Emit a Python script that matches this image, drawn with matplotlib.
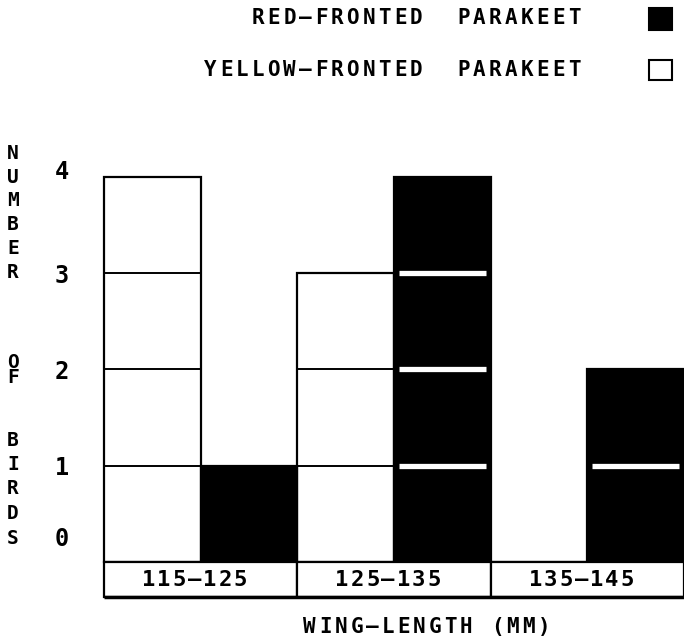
import matplotlib.pyplot as plt
from matplotlib.patches import Rectangle
from matplotlib.transforms import ScaledTranslation

plt.rcParams['font.family'] = 'DejaVu Sans Mono'

# data
groups = ['115\u2014125', '125\u2014135', '135\u2014145']
yellow_fronted = [4, 3, 0]
red_fronted = [1, 4, 2]
yticks = [0, 1, 2, 3, 4]
legend_labels = ['RED\u2014FRONTED  PARAKEET', 'YELLOW\u2014FRONTED  PARAKEET']
xlabel = 'WING\u2014LENGTH (MM)'
ylabel_words = ['NUMBER', 'OF', 'BIRDS']

W, H = 684, 643
fig = plt.figure(figsize=(W / 100, H / 100), dpi=100)


def spaced(x0, y, s, pitch, size=15, align='left'):
    # typewriter-like text with a fixed character pitch (pixels)
    if align == 'right':
        x0 = x0 - len(s) * pitch
    elif align == 'center':
        x0 = x0 - len(s) * pitch / 2
    for k, ch in enumerate(s):
        if ch != ' ':
            fig.text((x0 + (k + 0.5) * pitch) / W, 1 - y / H, ch, ha='center',
                     va='center', fontsize=size, fontweight='bold')


ax = fig.add_axes([104 / W, 46 / H, 580 / W, 420 / H])
box_h = 0.364
ax.set_xlim(0, 6)
ax.set_ylim(-box_h, 4)
for s in ax.spines.values():
    s.set_visible(False)

x_yel = [2 * i for i in range(len(groups))]
x_red = [2 * i + 1 for i in range(len(groups))]

ax.bar(x_yel, yellow_fronted, width=1, align='edge', facecolor='white',
       edgecolor='black', linewidth=1.6, clip_on=False)
ax.bar(x_red, red_fronted, width=1, align='edge', facecolor='black',
       edgecolor='black', linewidth=1.6, clip_on=False)

# unit divisions
for x, h in zip(x_yel, yellow_fronted):
    for k in range(1, h):
        ax.plot([x, x + 1], [k, k], color='black', lw=1.4, clip_on=False)
for x, h in zip(x_red, red_fronted):
    for k in range(1, h):
        ax.plot([x + 0.05, x + 0.95], [k, k], color='white', lw=3.8,
                solid_capstyle='butt')

# category boxes under the bars
for i, g in enumerate(groups):
    ax.add_patch(Rectangle((2 * i, -box_h), 2, box_h, facecolor='white',
                           edgecolor='black', lw=1.6, clip_on=False))
    cx = 104 + (2 * i + 1) * 580 / 6 - 6
    spaced(cx, 580, g, 15.3, size=16, align='center')
ax.plot([0, 6], [-box_h, -box_h], color='black', lw=2.5, clip_on=False,
        solid_capstyle='butt')

ax.set_xticks([])
ax.set_yticks(yticks)
ax.set_yticklabels([str(t) for t in yticks], fontsize=17, fontweight='bold')
ax.tick_params(axis='y', length=0, pad=25)
labs = ax.get_yticklabels()
labs[0].set_transform(labs[0].get_transform() + ScaledTranslation(0, 0.25, fig.dpi_scale_trans))
labs[-1].set_transform(labs[-1].get_transform() + ScaledTranslation(0, 0.08, fig.dpi_scale_trans))

# axis titles
spaced(302, 627, xlabel, 15.6)
for j, ch in enumerate(ylabel_words[0]):
    fig.text(13 / W, 1 - (153 + j * 24) / H, ch, ha='center', va='center',
             fontsize=14, fontweight='bold')
fig.text(13 / W, 1 - 370 / H, '\n'.join(ylabel_words[1]), ha='center',
         va='center', fontsize=14, fontweight='bold', linespacing=0.7)
for j, ch in enumerate(ylabel_words[2]):
    fig.text(13 / W, 1 - (440 + j * 24.5) / H, ch, ha='center', va='center',
             fontsize=14, fontweight='bold')

# legend
spaced(582, 18, legend_labels[0], 15.8, align='right')
spaced(582, 70, legend_labels[1], 15.8, align='right')
fig.patches.append(Rectangle((649 / W, 1 - 30 / H), 23 / W, 22 / H,
                             transform=fig.transFigure, facecolor='black',
                             edgecolor='black', lw=1.5))
fig.patches.append(Rectangle((649 / W, 1 - 80 / H), 23 / W, 20 / H,
                             transform=fig.transFigure, facecolor='white',
                             edgecolor='black', lw=1.5))

fig.savefig('out.png', dpi=100)
